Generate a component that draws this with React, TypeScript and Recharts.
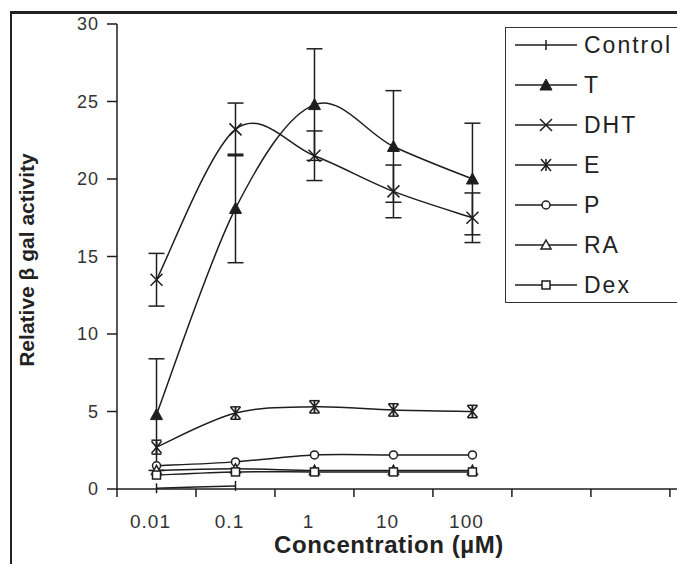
import { ErrorBar, Legend, Line, LineChart, XAxis, YAxis } from 'recharts'

const concentrations = [0.01, 0.1, 1, 10, 100]
const concLabels = ['0.01', '0.1', '1', '10', '100']
// tick marks sit half way between the labelled decades
const xTickMarks = [0.00316, 0.0316, 0.316, 3.16, 31.6, 316, 3162, 31623]
const yTicks = [0, 5, 10, 15, 20, 25, 30]

const controlVals = [0.05, 0.2, null, null, null]
const tVals = [4.8, 18.1, 24.8, 22.1, 20.0]
const tErr = [3.6, 3.5, 3.6, 3.6, 3.6]
const dhtVals = [13.5, 23.2, 21.5, 19.2, 17.5]
const dhtErr = [1.7, 1.7, 1.6, 1.7, 1.6]
const eVals = [2.7, 4.9, 5.3, 5.1, 5.0]
const eErr = [0.45, 0.4, 0.4, 0.4, 0.4]
const pVals = [1.5, 1.75, 2.2, 2.2, 2.2]
const raVals = [1.2, 1.3, 1.2, 1.2, 1.2]
const dexVals = [0.9, 1.1, 1.1, 1.1, 1.1]

const series = [
  { key: 'control', name: 'Control', shape: 'bar' },
  { key: 't', name: 'T', shape: 'triFill', err: 'tErr', cap: 8 },
  { key: 'dht', name: 'DHT', shape: 'x', err: 'dhtErr', cap: 8 },
  { key: 'e', name: 'E', shape: 'star', err: 'eErr', cap: 5 },
  { key: 'p', name: 'P', shape: 'circle' },
  { key: 'ra', name: 'RA', shape: 'tri' },
  { key: 'dex', name: 'Dex', shape: 'square' },
]

const rows = concentrations.map((c, i) => ({
  conc: c,
  control: controlVals[i],
  t: tVals[i],
  tErr: tErr[i],
  dht: dhtVals[i],
  dhtErr: dhtErr[i],
  e: eVals[i],
  eErr: eErr[i],
  p: pVals[i],
  ra: raVals[i],
  dex: dexVals[i],
}))

const ink = '#1e1e1e'
const font = '"Liberation Sans", Arial, sans-serif'

// excel style smoothed line (catmull-rom through the points)
const excelSmooth = (context: any) => {
  let pts: number[][] = []
  return {
    areaStart() {},
    areaEnd() {},
    lineStart() {
      pts = []
    },
    point(x: number, y: number) {
      pts.push([+x, +y])
    },
    lineEnd() {
      if (!pts.length) return
      context.moveTo(pts[0][0], pts[0][1])
      for (let i = 0; i < pts.length - 1; i++) {
        const p0 = pts[i - 1] || pts[i]
        const p1 = pts[i]
        const p2 = pts[i + 1]
        const p3 = pts[i + 2] || p2
        context.bezierCurveTo(
          p1[0] + (p2[0] - p0[0]) / 6,
          p1[1] + (p2[1] - p0[1]) / 6,
          p2[0] - (p3[0] - p1[0]) / 6,
          p2[1] - (p3[1] - p1[1]) / 6,
          p2[0],
          p2[1]
        )
      }
    },
  }
}

const Marker = ({ shape, cx, cy }: { shape: string; cx: number; cy: number }) => {
  const st = { stroke: ink, strokeWidth: 1.5, fill: 'none' }
  switch (shape) {
    case 'bar':
      return <line x1={cx} x2={cx} y1={cy - 5} y2={cy + 5} {...st} />
    case 'triFill':
      return <polygon points={`${cx},${cy - 6} ${cx + 6},${cy + 5} ${cx - 6},${cy + 5}`} fill={ink} stroke={ink} />
    case 'x':
      return <path d={`M${cx - 6},${cy - 6}L${cx + 6},${cy + 6}M${cx - 6},${cy + 6}L${cx + 6},${cy - 6}`} {...st} />
    case 'star':
      return (
        <path
          d={`M${cx - 5},${cy - 6}L${cx + 5},${cy + 6}M${cx - 5},${cy + 6}L${cx + 5},${cy - 6}M${cx},${cy - 6}L${cx},${cy + 6}`}
          {...st}
        />
      )
    case 'circle':
      return <circle cx={cx} cy={cy} r={4} fill="#fff" stroke={ink} strokeWidth={1.5} />
    case 'tri':
      return <polygon points={`${cx},${cy - 5} ${cx + 5},${cy + 4} ${cx - 5},${cy + 4}`} fill="#fff" stroke={ink} strokeWidth={1.5} />
    case 'square':
      return <rect x={cx - 4} y={cy - 4} width={8} height={8} fill="#fff" stroke={ink} strokeWidth={1.5} />
    default:
      return null
  }
}

const XTick = ({ x, y, payload }: any) => {
  const idx = concentrations.findIndex((c) => Math.abs(Math.log10(c) - Math.log10(payload.value)) < 0.01)
  if (idx >= 0) {
    return (
      <text x={x - 6} y={y + 39} textAnchor="middle" fontSize={19} letterSpacing={1} fill="#333" fontFamily={font}>
        {concLabels[idx]}
      </text>
    )
  }
  return <line x1={x} x2={x} y1={y} y2={y + 8} stroke={ink} strokeWidth={1.5} />
}

const YTick = ({ x, y, payload }: any) => (
  <text x={x + 1} y={y} dy={6} textAnchor="end" fontSize={18} letterSpacing={1} fill="#333" fontFamily={font}>
    {payload.value}
  </text>
)

const LegendBox = () => (
  <div
    style={{
      width: 172,
      height: 276,
      boxSizing: 'border-box',
      borderLeft: '1.5px solid #333',
      borderTop: '1.5px solid #333',
      borderBottom: '1.5px solid #333',
      background: '#fff',
      fontFamily: font,
      overflow: 'hidden',
    }}
  >
    <div style={{ marginTop: -3 }}>
      {series.map((s) => (
        <div key={s.key} style={{ display: 'flex', alignItems: 'center', height: 40, whiteSpace: 'nowrap' }}>
          <svg width={78} height={40} style={{ display: 'block', flex: 'none' }}>
            <line x1={9} x2={71} y1={20} y2={20} stroke={ink} strokeWidth={1.5} />
            <Marker shape={s.shape} cx={40} cy={20} />
          </svg>
          <span style={{ fontSize: 23, letterSpacing: 2, color: '#222', lineHeight: '40px' }}>{s.name}</span>
        </div>
      ))}
    </div>
  </div>
)

export default function App() {
  return (
    <div style={{ position: 'fixed', left: 0, top: 0, width: 677, height: 564, overflow: 'hidden', background: '#fff' }}>
      <div
        style={{
          position: 'absolute',
          left: 10,
          top: 11,
          right: 0,
          bottom: 0,
          borderLeft: '2px solid #222',
          borderTop: '3px solid #222',
        }}
      />
      <div style={{ position: 'absolute', left: 0, top: 0 }}>
        <LineChart width={677} height={564} data={rows} margin={{ top: 24, right: 0, bottom: 0, left: 0 }}>
          <XAxis
            dataKey="conc"
            type="number"
            scale="log"
            domain={[0.00316, 38900]}
            allowDataOverflow
            ticks={[...xTickMarks, ...concentrations].sort((a, b) => a - b)}
            interval={0}
            tickLine={false}
            tickSize={0}
            tickMargin={0}
            tick={<XTick />}
            height={75}
            axisLine={{ stroke: ink, strokeWidth: 1.5 }}
            label={(props: any) => {
              const vb = props.viewBox || { x: 117, y: 489 }
              return (
                <text x={vb.x + 272} y={vb.y + 64} textAnchor="middle" fontSize={24} fontWeight="bold" letterSpacing={0.6} fill="#222" fontFamily={font}>
                  Concentration (µM)
                </text>
              )
            }}
          />
          <YAxis
            type="number"
            domain={[0, 30]}
            ticks={yTicks}
            interval={0}
            width={117}
            tickSize={10}
            tickMargin={9}
            tick={<YTick />}
            tickLine={{ stroke: ink, strokeWidth: 1.5 }}
            axisLine={{ stroke: ink, strokeWidth: 1.5 }}
            label={() => (
              <text
                x={26}
                y={260}
                transform="rotate(-90, 26, 260)"
                textAnchor="middle"
                dominantBaseline="central"
                fontSize={21}
                fontWeight="bold"
                fill="#222"
                fontFamily={font}
              >
                Relative β gal activity
              </text>
            )}
          />
          <Legend
            layout="horizontal"
            verticalAlign="middle"
            align="center"
            wrapperStyle={{ left: 505, top: 27, width: 172 }}
            content={() => <LegendBox />}
          />
          {series.map((s) => (
            <Line
              key={s.key}
              dataKey={s.key}
              name={s.name}
              type={excelSmooth as any}
              stroke={ink}
              strokeWidth={1.5}
              activeDot={false}
              isAnimationActive={false}
              dot={(p: any) =>
                p.cy == null || p.value == null ? (
                  <g key={`${s.key}-${p.index}`} />
                ) : (
                  <g key={`${s.key}-${p.index}`}>
                    <Marker shape={s.shape} cx={p.cx} cy={p.cy} />
                  </g>
                )
              }
            >
              {s.err ? (
                <ErrorBar dataKey={s.err} width={s.cap} stroke={ink} strokeWidth={1.5} direction="y" isAnimationActive={false} />
              ) : null}
            </Line>
          ))}
        </LineChart>
      </div>
    </div>
  )
}
